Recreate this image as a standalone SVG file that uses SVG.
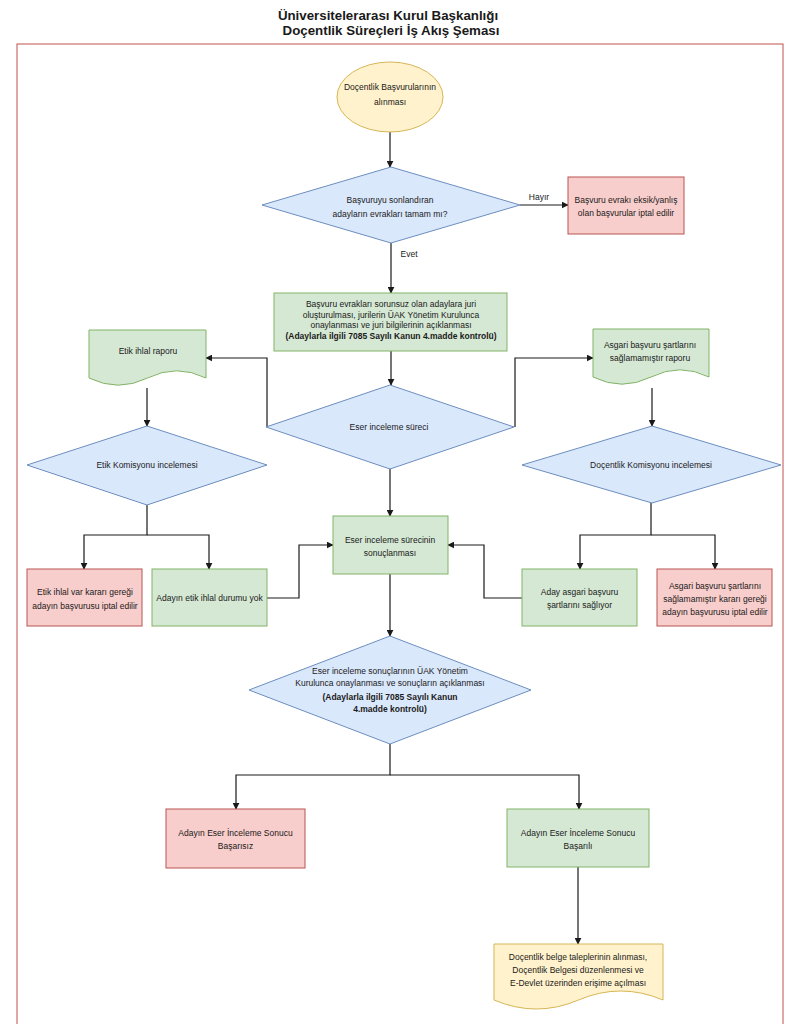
<svg xmlns="http://www.w3.org/2000/svg" width="786" height="1024" viewBox="0 0 786 1024">
<defs>
<style>
.t{font-family:"Liberation Sans",Arial,sans-serif;font-size:8.5px;fill:#1a1a1a;text-anchor:middle}
.b{font-weight:bold}
.title{font-family:"Liberation Sans",Arial,sans-serif;font-size:13.3px;font-weight:bold;fill:#1a1a1a;text-anchor:middle}
.g{fill:#d5e8d4;stroke:#82b366;stroke-width:1}
.r{fill:#f8cecc;stroke:#b85450;stroke-width:1}
.bl{fill:#dae8fc;stroke:#6c8ebf;stroke-width:1}
.y{fill:#fff2cc;stroke:#d6b656;stroke-width:1}
.c{fill:none;stroke:#1a1a1a;stroke-width:1.2}
</style>
<marker id="ah" viewBox="0 0 10 10" refX="9" refY="5" markerWidth="7" markerHeight="7" markerUnits="userSpaceOnUse" orient="auto">
<path d="M0,0 L10,5 L0,10 Z" fill="#1a1a1a"/>
</marker>
</defs>
<rect width="786" height="1024" fill="#ffffff"/>
<text class="title" x="388" y="20">Üniversitelerarası Kurul Başkanlığı</text>
<text class="title" x="391" y="35">Doçentlik Süreçleri İş Akış Şeması</text>
<rect x="17" y="44" width="766" height="1000" fill="none" stroke="#c0504d" stroke-width="1"/>

<g id="connectors">
<path class="c" d="M390,131 V167" marker-end="url(#ah)"/>
<path class="c" d="M520,205 H568" marker-end="url(#ah)"/>
<path class="c" d="M391,243 V293" marker-end="url(#ah)"/>
<path class="c" d="M391,351 V385" marker-end="url(#ah)"/>
<path class="c" d="M267,427 V358 H206" marker-end="url(#ah)"/>
<path class="c" d="M515,427 V358 H593" marker-end="url(#ah)"/>
<path class="c" d="M147,388 V426" marker-end="url(#ah)"/>
<path class="c" d="M652,388 V426" marker-end="url(#ah)"/>
<path class="c" d="M390,468 V516" marker-end="url(#ah)"/>
<path class="c" d="M147,505 V535 H84 V569" marker-end="url(#ah)"/>
<path class="c" d="M147,535 H209 V569" marker-end="url(#ah)"/>
<path class="c" d="M651,503 V535 H580 V569" marker-end="url(#ah)"/>
<path class="c" d="M651,535 H715 V569" marker-end="url(#ah)"/>
<path class="c" d="M267,598 H299 V545 H333" marker-end="url(#ah)"/>
<path class="c" d="M522,598 H484 V545 H448" marker-end="url(#ah)"/>
<path class="c" d="M390,574 V636" marker-end="url(#ah)"/>
<path class="c" d="M390,744 V775 H236 V809" marker-end="url(#ah)"/>
<path class="c" d="M390,775 H579 V809" marker-end="url(#ah)"/>
<path class="c" d="M578,867 V944" marker-end="url(#ah)"/>
<text class="t" x="539" y="200">Hayır</text>
<text class="t" x="409" y="257">Evet</text>
</g>

<g id="start">
<ellipse class="y" cx="390" cy="97" rx="53" ry="35"/>
<text class="t" x="390" y="90">Doçentlik Başvurularının</text>
<text class="t" x="390" y="105">alınması</text>
</g>

<g id="check">
<path class="bl" d="M391,167 L520,205 L391,243 L262,205 Z"/>
<text class="t" x="390" y="203">Başvuruyu sonlandıran</text>
<text class="t" x="390" y="217">adayların evrakları tamam mı?</text>
</g>

<g id="reject1">
<rect class="r" x="568" y="177" width="116" height="57"/>
<text class="t" x="626" y="203">Başvuru evrakı eksik/yanlış</text>
<text class="t" x="626" y="216">olan başvurular iptal edilir</text>
</g>

<g id="jury">
<rect class="g" x="274" y="293" width="233" height="58"/>
<text class="t" x="391" y="307">Başvuru evrakları sorunsuz olan adaylara juri</text>
<text class="t" x="391" y="318">oluşturulması, jurilerin ÜAK Yönetim Kurulunca</text>
<text class="t" x="391" y="328">onaylanması ve  juri bilgilerinin açıklanması</text>
<text class="t b" x="391" y="339">(Adaylarla ilgili 7085 Sayılı Kanun 4.madde kontrolü)</text>
</g>

<g id="review">
<path class="bl" d="M390,385 L514,427 L390,469 L266,427 Z"/>
<text class="t" x="389" y="430">Eser inceleme süreci</text>
</g>

<g id="ethicsReport">
<path class="g" d="M89,330 H206 V378 Q176.75,363.6 147.5,378 Q118.25,392.4 89,378 Z"/>
<text class="t" x="148" y="354">Etik ihlal raporu</text>
</g>

<g id="minReport">
<path class="g" d="M593,329 H709 V377 Q680,362.6 651,377 Q622,391.4 593,377 Z"/>
<text class="t" x="650" y="348">Asgari başvuru şartlarını</text>
<text class="t" x="650" y="361">sağlamamıştır raporu</text>
</g>

<g id="ethicsCommittee">
<path class="bl" d="M147,426 L267,465 L147,505 L27,465 Z"/>
<text class="t" x="147" y="468">Etik Komisyonu incelemesi</text>
</g>

<g id="docentCommittee">
<path class="bl" d="M652,426 L781,465 L652,503 L522,465 Z"/>
<text class="t" x="651" y="468">Doçentlik Komisyonu incelemesi</text>
</g>

<g id="ethicsReject">
<rect class="r" x="27" y="569" width="115" height="57"/>
<text class="t" x="85" y="595">Etik ihlal var kararı gereği</text>
<text class="t" x="85" y="609">adayın başvurusu iptal edilir</text>
</g>

<g id="ethicsOk">
<rect class="g" x="152" y="569" width="115" height="57"/>
<text class="t" x="209.5" y="601">Adayın etik ihlal durumu yok</text>
</g>

<g id="reviewEnd">
<rect class="g" x="333" y="516" width="115" height="58"/>
<text class="t" x="390" y="543">Eser inceleme sürecinin</text>
<text class="t" x="390" y="556">sonuçlanması</text>
</g>

<g id="minOk">
<rect class="g" x="522" y="569" width="115" height="57"/>
<text class="t" x="579.5" y="595">Aday asgari başvuru</text>
<text class="t" x="579.5" y="608">şartlarını sağlıyor</text>
</g>

<g id="minReject">
<rect class="r" x="657" y="569" width="115" height="57"/>
<text class="t" x="715" y="589">Asgari başvuru şartlarını</text>
<text class="t" x="715" y="602">sağlamamıştır kararı gereği</text>
<text class="t" x="715" y="615">adayın başvurusu iptal edilir</text>
</g>

<g id="approval">
<path class="bl" d="M390,636 L531,690 L390,744 L249,690 Z"/>
<text class="t" x="390" y="674">Eser inceleme sonuçlarının ÜAK Yönetim</text>
<text class="t" x="390" y="686">Kurulunca onaylanması ve sonuçların açıklanması</text>
<text class="t b" x="390" y="700">(Adaylarla ilgili 7085 Sayılı Kanun</text>
<text class="t b" x="390" y="712">4.madde kontrolü)</text>
</g>

<g id="fail">
<rect class="r" x="166" y="809" width="139" height="59"/>
<text class="t" x="235.5" y="836">Adayın Eser İnceleme Sonucu</text>
<text class="t" x="235.5" y="849">Başarısız</text>
</g>

<g id="success">
<rect class="g" x="507" y="809" width="142" height="58"/>
<text class="t" x="578" y="836">Adayın Eser İnceleme Sonucu</text>
<text class="t" x="578" y="849">Başarılı</text>
</g>

<g id="certificate">
<path class="y" d="M494,944 H663 V1000 Q620.75,982 578.5,1000 Q536.25,1018 494,1000 Z"/>
<text class="t" x="578" y="960">Doçentlik belge taleplerinin alınması,</text>
<text class="t" x="578" y="973">Doçentlik Belgesi düzenlenmesi ve</text>
<text class="t" x="578" y="986">E-Devlet üzerinden erişime açılması</text>
</g>
</svg>
